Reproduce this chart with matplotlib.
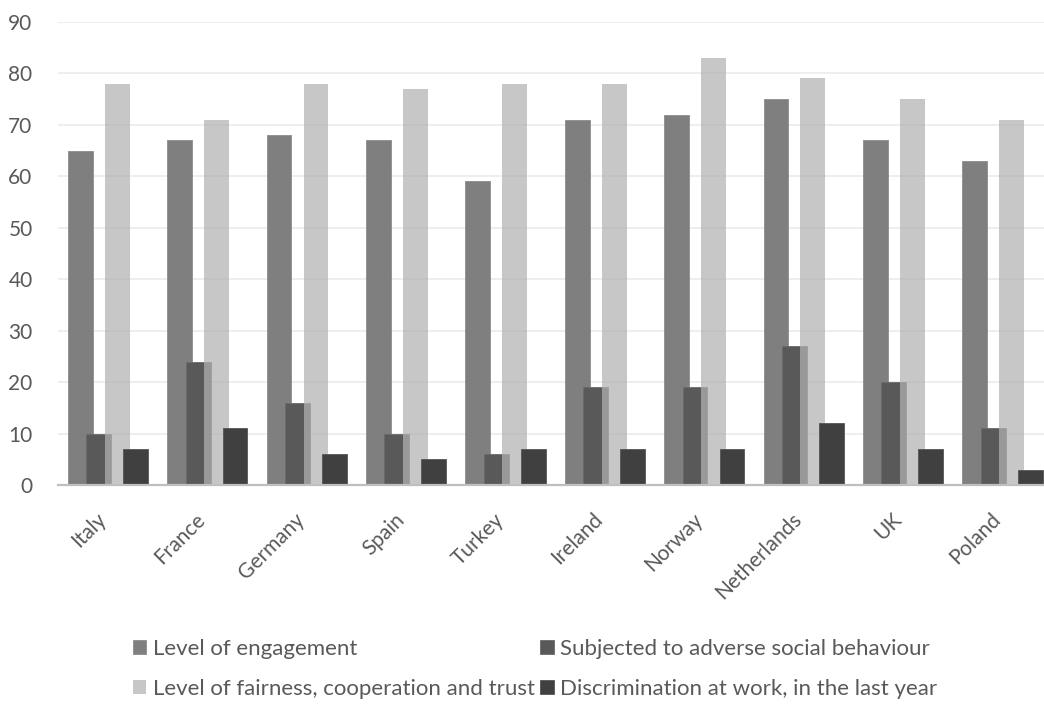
import matplotlib.pyplot as plt
import matplotlib.transforms as mtransforms
import numpy as np

###############################################################################
# Data
###############################################################################
countries = ['Italy', 'France', 'Germany', 'Spain', 'Turkey', 'Ireland',
             'Norway', 'Netherlands', 'UK', 'Poland']
engagement = [65, 67, 68, 67, 59, 71, 72, 75, 67, 63]
adverse = [10, 24, 16, 10, 6, 19, 19, 27, 20, 11]
fairness = [78, 71, 78, 77, 78, 78, 83, 79, 75, 71]
discrimination = [7, 11, 6, 5, 7, 7, 7, 12, 7, 3]

labels = ['Level of engagement', 'Subjected to adverse social behaviour',
          'Level of fairness, cooperation and trust',
          'Discrimination at work, in the last year']

###############################################################################
# Plot
###############################################################################
plt.rcParams['font.family'] = ['Lato', 'DejaVu Sans']

fig = plt.figure(figsize=(10.44, 7.06), dpi=100)
# plot area runs a bit past the right edge, like the cropped original
ax = fig.add_axes([0.0558, 0.313, 0.952, 0.656])

x = np.arange(len(countries))
w = 0.25
step = 0.186

ax.bar(x - 1.5*step, engagement, w, color='#7f7f7f', edgecolor='#8c8c8c', linewidth=0.6, zorder=2, label=labels[0])
ax.bar(x - 0.5*step, adverse, w, color='#595959', edgecolor='#6a6a6a', linewidth=0.6, zorder=3, label=labels[1])
ax.bar(x + 0.5*step, fairness, w, color='#b2b2b2', alpha=0.72, linewidth=0, zorder=4, label=labels[2])
ax.bar(x + 1.5*step, discrimination, w, color='#404040', edgecolor='#555555', linewidth=0.6, zorder=5, label=labels[3])

ax.set_xlim(-0.5, len(countries) - 0.5)
ax.set_ylim(0, 90)
ax.set_yticks(np.arange(0, 91, 10))
ax.yaxis.grid(True, color='#ebebeb', linewidth=1.2, zorder=0)
ax.set_axisbelow(True)

for s in ['top', 'right', 'left']:
    ax.spines[s].set_visible(False)
ax.spines['bottom'].set_color('#bfbfbf')
ax.spines['bottom'].set_linewidth(1.6)
ax.spines['bottom'].set_zorder(6)

ax.tick_params(axis='y', length=0, pad=18.5, labelsize=15, labelcolor='#595959')
ax.tick_params(axis='x', length=0, pad=17.5, labelsize=15, labelcolor='#595959')
ax.set_xticks(x)
ax.set_xticklabels(countries, rotation=45, ha='right', va='top', rotation_mode='anchor')
shift = mtransforms.ScaledTranslation(-12/100, 0, fig.dpi_scale_trans)
for lab in ax.get_xticklabels():
    lab.set_transform(lab.get_transform() + shift)

# legend: two columns, entries ordered row by row
h, l = ax.get_legend_handles_labels()
order = [0, 2, 1, 3]
fig.legend([h[i] for i in order], [l[i] for i in order], ncol=2,
           loc='lower left', bbox_to_anchor=(0.108, -0.018), frameon=False,
           fontsize=16, labelcolor='#595959', handlelength=0.6, handleheight=0.6,
           handletextpad=0.3, columnspacing=0.25, labelspacing=0.9)

plt.savefig('out.png', dpi=100)
